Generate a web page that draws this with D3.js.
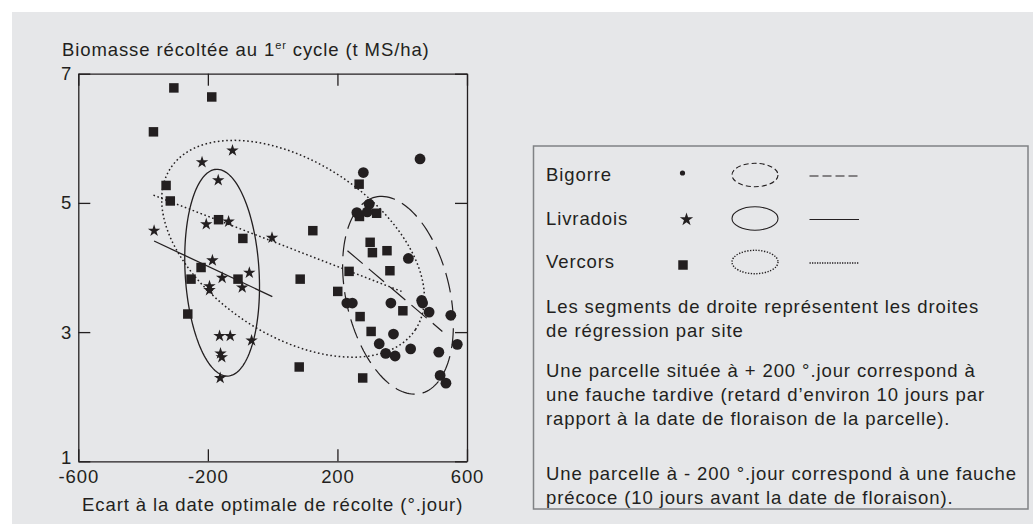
<!DOCTYPE html>
<html>
<head>
<meta charset="utf-8">
<script src="https://cdn.jsdelivr.net/npm/d3@7"></script>
<style>
  body { margin: 0; background: #fff; }
  text { font-family: "Liberation Sans", Arial, sans-serif; fill: #231f20; letter-spacing: 0.9px; }
</style>
</head>
<body>
<div id="chart"></div>
<script>
(function() {

    // axis ticks
    var xTicks = [-600, -200, 200, 600];
    var yTicks = [1, 3, 5, 7];

    // points per site: [écart °.jour, biomasse t MS/ha]
    var bigorre = [
        [455, 5.68], [280, 5.47], [260, 4.85], [298, 4.98], [292, 4.86],
        [419, 4.14], [229, 3.45], [246, 3.45], [365, 3.45], [460, 3.49],
        [463, 3.45], [483, 3.31], [550, 3.26], [373, 2.97], [329, 2.82],
        [349, 2.67], [378, 2.63], [426, 2.74], [513, 2.69], [570, 2.81],
        [517, 2.33], [535, 2.21]
    ];
    var livradois = [
        [-218, 5.63], [-124, 5.81], [-168, 5.35], [-366, 4.57], [-205, 4.67],
        [-136, 4.71], [-186, 4.11], [-156, 3.84], [-195, 3.71], [-195, 3.65],
        [-72, 3.92], [-94, 3.69], [-164, 2.94], [-131, 2.94], [-65, 2.87],
        [-161, 2.67], [-157, 2.61], [-162, 2.29], [-2, 4.46]
    ];
    var vercors = [
        [-305, 6.78], [-188, 6.64], [-368, 6.10], [-329, 5.27], [-316, 5.03],
        [-167, 4.74], [-92, 4.45], [-221, 4.00], [-252, 3.82], [-107, 3.82],
        [-262, 3.28], [124, 4.57], [85, 3.82], [82, 2.46], [267, 5.29],
        [268, 4.79], [321, 4.84], [301, 4.39], [308, 4.23], [353, 4.26],
        [362, 3.95], [236, 3.94], [201, 3.63], [270, 3.24], [304, 3.01],
        [402, 3.33], [278, 2.29]
    ];

    // regression segments [[x1,y1],[x2,y2]]
    var regBigorre = [[231, 4.26], [524, 3.01]];
    var regLivradois = [[-366, 4.41], [-1, 3.55]];
    var regVercors = [[-368, 5.12], [398, 3.63]];

    // ellipses: centre, and two conjugate half-axes (data units)
    var ellBigorre = {c: [387, 3.57], u: [-70, 1.52], v: [156, 0.18]};
    var ellLivradois = {c: [-156, 3.92], u: [-18, 1.60], v: [114, 0.03]};
    var ellVercors = {c: [63, 4.29], u: [378, -1.25], v: [-147, -1.12]};

    var siteNames = ["Bigorre", "Livradois", "Vercors"];
    var notes = [
        "Les segments de droite représentent les droites",
        "de régression par site",
        "Une parcelle située à + 200 °.jour correspond à",
        "une fauche tardive (retard d’environ 10 jours par",
        "rapport à la date de floraison de la parcelle).",
        "Une parcelle à - 200 °.jour correspond à une fauche",
        "précoce (10 jours avant la date de floraison)."
    ];

    var width = 1033,
        height = 524,
        ink = "#231f20";

    var svg = d3.select("#chart")
        .append("svg")
        .attr("width", width)
        .attr("height", height);

    svg.append("rect")
        .attr("x", 12).attr("y", 12)
        .attr("width", width - 12).attr("height", height - 12)
        .attr("fill", "#e6e7e9");

    var x = d3.scaleLinear().domain([-600, 600]).range([78.3, 467]);
    var y = d3.scaleLinear().domain([1, 7]).range([461.3, 73.7]);

    var fs = "18.5px";
    var plain = function(d) { return String(d); };

    // axes (frame with inner ticks)
    var gx = svg.append("g")
        .attr("transform", "translate(0," + y(1) + ")")
        .call(d3.axisBottom(x).tickValues(xTicks).tickFormat(plain).tickSizeInner(-12).tickSizeOuter(0).tickPadding(8.5));
    var gy = svg.append("g")
        .attr("transform", "translate(" + x(-600) + ",0)")
        .call(d3.axisLeft(y).tickValues(yTicks).tickFormat(plain).tickSizeInner(-12).tickSizeOuter(0).tickPadding(6));
    var gt = svg.append("g")
        .attr("transform", "translate(0," + y(7) + ")")
        .call(d3.axisTop(x).tickValues(xTicks).tickSizeInner(-12).tickSizeOuter(0).tickFormat(""));
    var gr = svg.append("g")
        .attr("transform", "translate(" + x(600) + ",0)")
        .call(d3.axisRight(y).tickValues(yTicks).tickSizeInner(-12).tickSizeOuter(0).tickFormat(""));

    [gx, gy, gt, gr].forEach(function(g) {
        g.attr("color", ink);
        g.selectAll("path, line").attr("stroke-width", 1.3);
        g.selectAll("text")
            .attr("font-family", null)
            .attr("font-size", null)
            .style("font-size", fs)
            .attr("fill", ink);
    });
    // the "1" sits just above the "-600" in the corner
    gy.selectAll(".tick").filter(function(d) { return d === 1; })
        .select("text").attr("dy", "0.1em");

    // axis titles
    var yt = svg.append("text")
        .attr("x", 62).attr("y", 56)
        .style("font-size", fs);
    yt.append("tspan").text("Biomasse récoltée au 1");
    yt.append("tspan").text("er").style("font-size", "11px").attr("dy", -7);
    yt.append("tspan").text(" cycle (t MS/ha)").attr("dy", 7);

    svg.append("text")
        .attr("x", (x(-600) + x(600)) / 2).attr("y", 511)
        .attr("text-anchor", "middle")
        .style("font-size", fs)
        .text("Ecart à la date optimale de récolte (°.jour)");

    // ellipses and regression segments
    var line = d3.line()
        .x(function(d) { return x(d[0]); })
        .y(function(d) { return y(d[1]); });
    var closed = d3.line().curve(d3.curveLinearClosed)
        .x(function(d) { return x(d[0]); })
        .y(function(d) { return y(d[1]); });

    function ellipsePts(e) {
        return d3.range(0, 144).map(function(i) {
            var t = i / 144 * 2 * Math.PI;
            return [e.c[0] + Math.cos(t) * e.u[0] + Math.sin(t) * e.v[0],
                    e.c[1] + Math.cos(t) * e.u[1] + Math.sin(t) * e.v[1]];
        });
    }

    var plot = svg.append("g");

    var styles = {
        Bigorre: {dash: "20,8", w: 1.2},
        Livradois: {dash: null, w: 1.3},
        Vercors: {dash: "1.6,2.6", w: 1.5}
    };

    [[ellBigorre, "Bigorre"], [ellLivradois, "Livradois"], [ellVercors, "Vercors"]].forEach(function(p) {
        plot.append("path")
            .attr("d", closed(ellipsePts(p[0])))
            .attr("fill", "none")
            .attr("stroke", ink)
            .attr("stroke-width", styles[p[1]].w)
            .attr("stroke-dasharray", styles[p[1]].dash);
    });

    [[regBigorre, "Bigorre"], [regLivradois, "Livradois"], [regVercors, "Vercors"]].forEach(function(p) {
        plot.append("path")
            .attr("d", line(p[0]))
            .attr("fill", "none")
            .attr("stroke", ink)
            .attr("stroke-width", styles[p[1]].w)
            .attr("stroke-dasharray", styles[p[1]].dash);
    });

    // points
    plot.selectAll(".sq")
        .data(vercors)
        .enter().append("path")
        .attr("class", "sq")
        .attr("d", d3.symbol().type(d3.symbolSquare).size(90))
        .attr("transform", function(d) { return "translate(" + x(d[0]) + "," + y(d[1]) + ")"; })
        .attr("fill", ink);

    plot.selectAll(".st")
        .data(livradois)
        .enter().append("path")
        .attr("class", "st")
        .attr("d", d3.symbol().type(d3.symbolStar).size(48))
        .attr("transform", function(d) { return "translate(" + x(d[0]) + "," + y(d[1]) + ")"; })
        .attr("fill", ink);

    plot.selectAll(".ci")
        .data(bigorre)
        .enter().append("circle")
        .attr("class", "ci")
        .attr("cx", function(d) { return x(d[0]); })
        .attr("cy", function(d) { return y(d[1]); })
        .attr("r", 5.4)
        .attr("fill", ink);

    // legend box
    var lg = svg.append("g");
    lg.append("rect")
        .attr("x", 533.5).attr("y", 146)
        .attr("width", 494.5).attr("height", 363)
        .attr("fill", "none")
        .attr("stroke", "#808285")
        .attr("stroke-width", 1.5);

    var rowY = [175, 218.5, 262];
    var lgDash = {Bigorre: "5,3", Livradois: null, Vercors: "1.3,1.5"};
    var lineDash = {Bigorre: "9,4", Livradois: null, Vercors: "1.3,1.2"};

    siteNames.forEach(function(name, i) {
        var cy = rowY[i];
        lg.append("text")
            .attr("x", 546).attr("y", cy + 6)
            .style("font-size", fs)
            .text(name);
        var sym;
        if (name === "Bigorre") {
            sym = lg.append("circle").attr("cx", 682.5).attr("cy", cy - 2).attr("r", 2.6);
        } else if (name === "Livradois") {
            sym = lg.append("path")
                .attr("d", d3.symbol().type(d3.symbolStar).size(55))
                .attr("transform", "translate(686.5," + (cy + 1) + ")");
        } else {
            sym = lg.append("path")
                .attr("d", d3.symbol().type(d3.symbolSquare).size(90))
                .attr("transform", "translate(683," + (cy + 3) + ")");
        }
        sym.attr("fill", ink);

        lg.append("ellipse")
            .attr("cx", 755).attr("cy", cy)
            .attr("rx", 23).attr("ry", 11.7)
            .attr("fill", "none")
            .attr("stroke", ink)
            .attr("stroke-width", name === "Vercors" ? 1.4 : 1.1)
            .attr("stroke-dasharray", lgDash[name]);

        lg.append("line")
            .attr("x1", 809.5).attr("x2", 859)
            .attr("y1", cy + 1).attr("y2", cy + 1)
            .attr("stroke", ink)
            .attr("stroke-width", name === "Vercors" ? 1.4 : 1.2)
            .attr("stroke-dasharray", lineDash[name]);
    });

    var noteY = [312.7, 336.7, 376.5, 400.5, 424.5, 480, 504];
    lg.selectAll(".note")
        .data(notes)
        .enter().append("text")
        .attr("class", "note")
        .attr("x", 546)
        .attr("y", function(d, i) { return noteY[i]; })
        .style("font-size", fs)
        .text(function(d) { return d; });

})();
</script>
</body>
</html>
